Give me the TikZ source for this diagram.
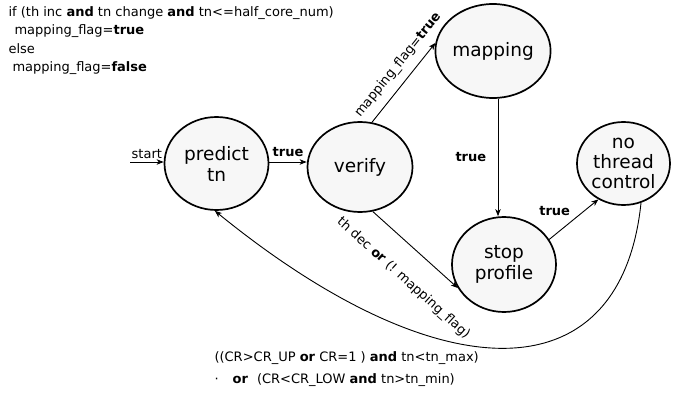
\documentclass[tikz,border=0pt]{standalone}
\usepackage{fontspec}
\setmainfont{DejaVu Sans}
\usetikzlibrary{arrows.meta,shapes.geometric}

\tikzset{
  state/.style={ellipse,draw,line width=1.7pt,fill=black!3,inner sep=0pt,
    minimum width=104pt,minimum height=93pt,align=center,
    font=\fontsize{18.5}{21}\selectfont},
  trans/.style={->,line width=0.9pt},
  lab/.style={font=\fontsize{13}{15}\selectfont},
}

\begin{document}
\begin{tikzpicture}[x=1pt,y=-1pt,>={Stealth[length=7pt,width=5.5pt,inset=2pt]}]
  \useasboundingbox (0,0) rectangle (673,396);

  \node[lab,anchor=north west,align=left,font=\fontsize{13}{18.3}\selectfont] (rule) at (5,3)
    {if (th inc \textbf{and} tn change \textbf{and} tn<=half\_core\_num)\\
     \hspace{6pt}mapping\_flag=\textbf{true}\\
     else\\
     \hspace{4pt}mapping\_flag=\textbf{false}};

  \node[state] (predict) at (216.5,163.5) {predict\\tn};
  \node[state,minimum width=105pt,minimum height=90pt] (verify) at (360,167) {verify};
  \node[state,minimum width=100pt,minimum height=94pt] (mapping) at (493,51) {mapping};
  \node[state,minimum height=95pt] (stop) at (504,264.5) {stop\\profile};
  \node[state,minimum width=93pt,minimum height=83pt,font=\fontsize{18.5}{20}\selectfont]
    (nothread) at (623.5,163.5) {no\\thread\\control};

  \coordinate (start) at (130,162);
  \draw[trans] (start) -- node[lab,above,inner sep=2.5pt] (startlab) {start} (start -| predict.west);
  \draw[trans] (predict.east |- start) -- node[lab,above=2pt] (t1) {\textbf{true}} (start -| verify.west);
  \draw[trans] (verify.75) -- node[lab,above=5pt,sloped,pos=0.6] (t2) {mapping\_flag=\textbf{true}} (mapping.172);
  \draw[trans] (verify.-74) -- node[lab,below=19pt,sloped,pos=0.59] (t3)
    {th dec \textbf{or} (! mapping\_flag)} (stop.207);
  \draw[trans] ([xshift=5pt]mapping.south) -- node[lab,left=8pt] (t4) {\textbf{true}} ([xshift=-6pt]stop.north);
  \draw[trans] (stop.29) -- node[lab,above left] (t5) {\textbf{true}} (nothread.235);
  \draw[trans] (nothread.-66) .. controls (621,396) and (440,394) .. (predict.-92);

  \node[lab,anchor=west,align=left,font=\fontsize{13}{22}\selectfont] (cond) at (211,369)
    {((CR>CR\_UP \textbf{or} CR=1 ) \textbf{and} tn<tn\_max)\\
     ·\hspace{14pt}\textbf{or}\hspace{9pt}(CR<CR\_LOW \textbf{and} tn>tn\_min)};
\end{tikzpicture}
\end{document}
